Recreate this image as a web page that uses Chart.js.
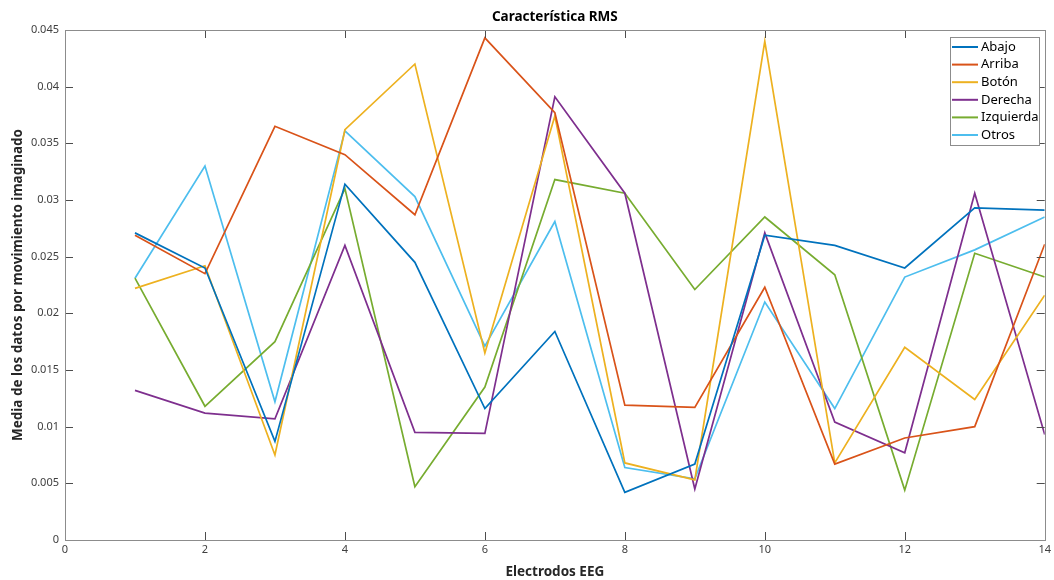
<!DOCTYPE html>
<html>
<head>
<meta charset="utf-8">
<script src="https://cdn.jsdelivr.net/npm/chart.js@4/dist/chart.umd.min.js"></script>
<style>
  html, body { margin: 0; padding: 0; background: #fff; }
  #wrap { width: 1054px; height: 580px; position: relative; }
</style>
</head>
<body>
<div id="wrap"><canvas id="chart"></canvas></div>
<script>
const electrodes = [1, 2, 3, 4, 5, 6, 7, 8, 9, 10, 11, 12, 13, 14];

const abajo     = [0.0271, 0.0240, 0.0087, 0.0314, 0.0245, 0.0116, 0.0184, 0.0042, 0.0067, 0.0269, 0.0260, 0.0240, 0.0293, 0.0291];
const arriba    = [0.0269, 0.0235, 0.0365, 0.0340, 0.0287, 0.0443, 0.0377, 0.0119, 0.0117, 0.0223, 0.0067, 0.0090, 0.0100, 0.0261];
const boton     = [0.0222, 0.0242, 0.0075, 0.0362, 0.0420, 0.0165, 0.0374, 0.0068, 0.0053, 0.0440, 0.0068, 0.0170, 0.0124, 0.0216];
const derecha   = [0.0132, 0.0112, 0.0107, 0.0260, 0.0095, 0.0094, 0.0391, 0.0306, 0.0045, 0.0271, 0.0104, 0.0077, 0.0306, 0.0093];
const izquierda = [0.0231, 0.0118, 0.0175, 0.0310, 0.0047, 0.0135, 0.0318, 0.0306, 0.0221, 0.0285, 0.0234, 0.0044, 0.0253, 0.0232];
const otros     = [0.0231, 0.0330, 0.0122, 0.0361, 0.0303, 0.0171, 0.0281, 0.0064, 0.0054, 0.0210, 0.0116, 0.0232, 0.0256, 0.0285];

const seriesNames  = ['Abajo', 'Arriba', 'Botón', 'Derecha', 'Izquierda', 'Otros'];
const seriesValues = [abajo, arriba, boton, derecha, izquierda, otros];
const seriesColors = ['#0072BD', '#D95319', '#EDB120', '#7E2F8E', '#77AC30', '#4DBEEE'];

const FONT = '"Noto Sans", "Open Sans", sans-serif';

// MATLAB-like box, inward ticks, title and in-axes legend
const matlabAxes = {
  id: 'matlabAxes',
  afterDatasetsDraw(chart) {
    const { ctx, chartArea: a, scales } = chart;
    ctx.save();
    ctx.strokeStyle = '#4d4d4d';
    ctx.lineWidth = 1;
    ctx.beginPath();
    scales.x.ticks.forEach(t => {
      const px = Math.round(scales.x.getPixelForValue(t.value)) + 0.5;
      ctx.moveTo(px, a.bottom); ctx.lineTo(px, a.bottom - 8);
      ctx.moveTo(px, a.top); ctx.lineTo(px, a.top + 8);
    });
    scales.y.ticks.forEach(t => {
      const py = Math.round(scales.y.getPixelForValue(t.value)) + 0.5;
      ctx.moveTo(a.left, py); ctx.lineTo(a.left + 8, py);
      ctx.moveTo(a.right, py); ctx.lineTo(a.right - 8, py);
    });
    ctx.stroke();
    ctx.strokeStyle = '#8c8c8c';
    ctx.strokeRect(Math.round(a.left) + 0.5, Math.round(a.top) + 0.5,
                   Math.round(a.right - a.left), Math.round(a.bottom - a.top));

    // title
    ctx.fillStyle = '#000';
    ctx.font = 'bold 13.5px ' + FONT;
    ctx.textAlign = 'center';
    ctx.textBaseline = 'middle';
    ctx.fillText('Característica RMS', (a.left + a.right) / 2, 17);

    // legend
    const lx = 950, ly = 37, lw = 89, rowH = 17.6;
    const ds = chart.data.datasets;
    ctx.fillStyle = '#fff';
    ctx.fillRect(lx, ly, lw, rowH * ds.length + 2);
    ctx.strokeStyle = '#8c8c8c';
    ctx.strokeRect(lx + 0.5, ly + 0.5, lw, Math.round(rowH * ds.length + 2));
    ctx.font = '13px ' + FONT;
    ctx.textAlign = 'left';
    ds.forEach((d, i) => {
      const cy = ly + 10 + i * rowH;
      ctx.strokeStyle = d.borderColor;
      ctx.lineWidth = 2;
      ctx.beginPath();
      ctx.moveTo(lx + 2, cy); ctx.lineTo(lx + 28, cy);
      ctx.stroke();
      ctx.fillStyle = '#000';
      ctx.fillText(d.label, lx + 31, cy);
    });
    ctx.restore();
  }
};

new Chart(document.getElementById('chart'), {
  type: 'line',
  data: {
    datasets: seriesNames.map((name, i) => ({
      label: name,
      data: electrodes.map((e, j) => ({ x: e, y: seriesValues[i][j] })),
      borderColor: seriesColors[i],
      backgroundColor: seriesColors[i],
      borderWidth: 1.7,
      pointRadius: 0,
      tension: 0,
      fill: false,
    })),
  },
  options: {
    responsive: true,
    maintainAspectRatio: false,
    animation: false,
    layout: { padding: { top: 30, right: 8, left: 0, bottom: 0 } },
    plugins: {
      legend: { display: false },
      title: { display: false },
      tooltip: { enabled: false },
    },
    scales: {
      x: {
        type: 'linear',
        min: 0,
        max: 14,
        ticks: { stepSize: 2, color: '#404040', font: { family: FONT, size: 11 }, padding: 3, maxRotation: 0 },
        grid: { display: false, drawTicks: false },
        border: { display: false },
        title: { display: true, text: 'Electrodos EEG', color: '#262626', font: { family: FONT, size: 13.5, weight: 'bold' }, padding: { top: 2, bottom: 0 } },
        afterFit: s => { s.height = 40; },
      },
      y: {
        min: 0,
        max: 0.045,
        ticks: {
          stepSize: 0.005,
          color: '#404040',
          font: { family: FONT, size: 11 },
          padding: 6,
          callback: v => String(Number(v.toFixed(3))),
        },
        grid: { display: false, drawTicks: false },
        border: { display: false },
        title: { display: true, text: 'Media de los datos por movimiento imaginado', color: '#262626', font: { family: FONT, size: 13.5, weight: 'bold' }, padding: { top: 10, bottom: 4 } },
        afterFit: s => { s.width = 65; },
      },
    },
  },
  plugins: [matlabAxes],
});
</script>
</body>
</html>
